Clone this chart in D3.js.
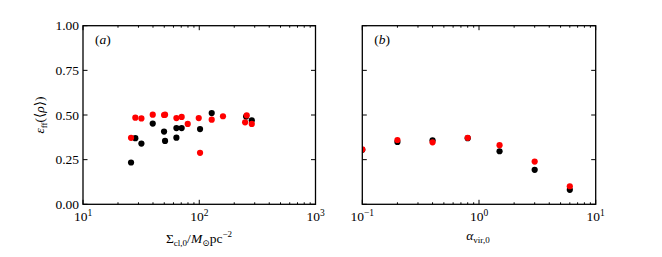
<!DOCTYPE html>
<html>
<head>
<meta charset="utf-8">
<script src="https://cdn.jsdelivr.net/npm/d3@7"></script>
<style>
  html, body { margin: 0; padding: 0; background: #fff; }
  svg { display: block; }
  svg text { font-family: "Liberation Serif", "DejaVu Serif", "Times New Roman", serif; fill: #000; }
</style>
</head>
<body>
<svg id="chart" width="662" height="257"></svg>
<script>
// ---- data ----
const sigmaBlack = [25.9, 28.2, 31.8, 39.8, 49.8, 50.8, 63.6, 63.6, 70.6, 101.6, 128, 253, 283];
const effBlackA  = [0.234, 0.370, 0.340, 0.452, 0.407, 0.355, 0.427, 0.373, 0.427, 0.421, 0.511, 0.491, 0.470];
const sigmaRed   = [25.9, 28.2, 31.8, 39.8, 49.8, 50.8, 63.6, 70.6, 79.6, 99, 101.6, 128, 160, 248, 256, 283];
const effRedA    = [0.372, 0.485, 0.481, 0.502, 0.500, 0.502, 0.483, 0.489, 0.450, 0.483, 0.288, 0.474, 0.493, 0.459, 0.498, 0.450];

const alphaVir   = [0.1, 0.2, 0.4, 0.8, 1.5, 3.0, 6.0];
const effBlackB  = [0.305, 0.349, 0.358, 0.370, 0.297, 0.193, 0.081];
const effRedB    = [0.307, 0.360, 0.347, 0.372, 0.331, 0.239, 0.101];

const yTicks = [0, 0.25, 0.5, 0.75, 1.0];
const yTickLabels = ["0.00", "0.25", "0.50", "0.75", "1.00"];
const xTicksA = [10, 100, 1000];
const xExpA = ["1", "2", "3"];
const xTicksB = [0.1, 1, 10];
const xExpB = ["\u22121", "0", "1"];

// ---- layout ----
const FONT = "'Liberation Serif', 'DejaVu Serif', serif";
const svg = d3.select("#chart");
const plotTop = 25.7, plotBottom = 204.3;
const panels = [
  {left: 83, right: 315.5, domain: [10, 1000], ticks: xTicksA, exps: xExpA, label: "a", yLabels: true,
   series: [{x: sigmaBlack, y: effBlackA, c: "#000000"}, {x: sigmaRed, y: effRedA, c: "#ff0000"}]},
  {left: 362.3, right: 595.7, domain: [0.1, 10], ticks: xTicksB, exps: xExpB, label: "b", yLabels: false,
   series: [{x: alphaVir, y: effBlackB, c: "#000000"}, {x: alphaVir, y: effRedB, c: "#ff0000"}]}
];

const y = d3.scaleLinear().domain([0, 1]).range([plotBottom, plotTop]);

panels.forEach(p => {
  const x = d3.scaleLog().domain(p.domain).range([p.left, p.right]);
  const g = svg.append("g");

  const cid = "clip-" + p.label;
  svg.append("clipPath").attr("id", cid).append("rect")
    .attr("x", p.left).attr("y", plotTop).attr("width", p.right - p.left).attr("height", plotBottom - plotTop);

  const pts = g.append("g").attr("clip-path", `url(#${cid})`);
  p.series.forEach(s => {
    pts.selectAll(null).data(s.x.map((v, i) => [v, s.y[i]])).enter().append("circle")
      .attr("cx", d => x(d[0])).attr("cy", d => y(d[1])).attr("r", 3.1).attr("fill", s.c);
  });

  const minor = [];
  const lo = Math.round(Math.log10(p.domain[0])), hi = Math.round(Math.log10(p.domain[1]));
  for (let e = lo; e < hi; e++) for (let k = 2; k <= 9; k++) minor.push(k * Math.pow(10, e));
  const tg = g.append("g").attr("stroke", "#000").attr("stroke-width", 1);
  minor.forEach(v => {
    const xx = x(v);
    tg.append("line").attr("x1", xx).attr("x2", xx).attr("y1", plotBottom).attr("y2", plotBottom - 2);
    tg.append("line").attr("x1", xx).attr("x2", xx).attr("y1", plotTop).attr("y2", plotTop + 2);
  });
  p.ticks.forEach(v => {
    const xx = x(v);
    tg.append("line").attr("x1", xx).attr("x2", xx).attr("y1", plotBottom).attr("y2", plotBottom - 4.5);
    tg.append("line").attr("x1", xx).attr("x2", xx).attr("y1", plotTop).attr("y2", plotTop + 4.5);
  });
  yTicks.forEach(v => {
    const yy = y(v);
    tg.append("line").attr("x1", p.left).attr("x2", p.left + 4.5).attr("y1", yy).attr("y2", yy);
    tg.append("line").attr("x1", p.right).attr("x2", p.right - 4.5).attr("y1", yy).attr("y2", yy);
  });

  g.append("rect").attr("x", p.left).attr("y", plotTop).attr("width", p.right - p.left).attr("height", plotBottom - plotTop)
    .attr("fill", "none").attr("stroke", "#000").attr("stroke-width", 1.3);

  p.ticks.forEach((v, i) => {
    const t = g.append("text").attr("x", x(v)).attr("y", 221).attr("text-anchor", "middle")
      .attr("font-family", FONT).attr("font-size", 13.5);
    t.append("tspan").text("10");
    t.append("tspan").attr("dy", -5).attr("font-size", 9.5).text(p.exps[i]);
  });

  if (p.yLabels) {
    yTicks.forEach((v, i) => {
      g.append("text").attr("x", p.left - 4).attr("y", y(v) + 4.5).attr("text-anchor", "end")
        .attr("font-family", FONT).attr("font-size", 13.5).text(yTickLabels[i]);
    });
  }

  const pl = g.append("text").attr("x", p.left + 12).attr("y", 44).attr("font-family", FONT).attr("font-size", 13.5);
  pl.append("tspan").text("(");
  pl.append("tspan").attr("font-style", "italic").text(p.label);
  pl.append("tspan").text(")");
});

const yl = svg.append("text").attr("transform", "translate(44,115) rotate(-90)").attr("text-anchor", "middle")
  .attr("font-family", FONT).attr("font-size", 13.5);
yl.append("tspan").attr("font-style", "italic").text("\u03b5");
yl.append("tspan").attr("font-size", 9).attr("dy", 3).text("ff");
yl.append("tspan").attr("dy", -3).text("(\u27e8");
yl.append("tspan").attr("font-style", "italic").text("\u03c1");
yl.append("tspan").text("\u27e9)");

const xa = svg.append("text").attr("x", 199).attr("y", 243).attr("text-anchor", "middle")
  .attr("font-family", FONT).attr("font-size", 13.5);
xa.append("tspan").text("\u03a3");
xa.append("tspan").attr("font-size", 9).attr("dy", 3).text("cl,0");
xa.append("tspan").attr("dy", -3).text("/");
xa.append("tspan").attr("font-style", "italic").text("M");
xa.append("tspan").attr("font-size", 9).attr("dy", 3).text("\u2299");
xa.append("tspan").attr("dy", -3).text("pc");
xa.append("tspan").attr("font-size", 9).attr("dy", -6).text("\u22122");

const xb = svg.append("text").attr("x", 478).attr("y", 240).attr("text-anchor", "middle")
  .attr("font-family", FONT).attr("font-size", 13.5);
xb.append("tspan").attr("font-style", "italic").text("\u03b1");
xb.append("tspan").attr("font-size", 9).attr("dy", 3).text("vir,0");
</script>
</body>
</html>
